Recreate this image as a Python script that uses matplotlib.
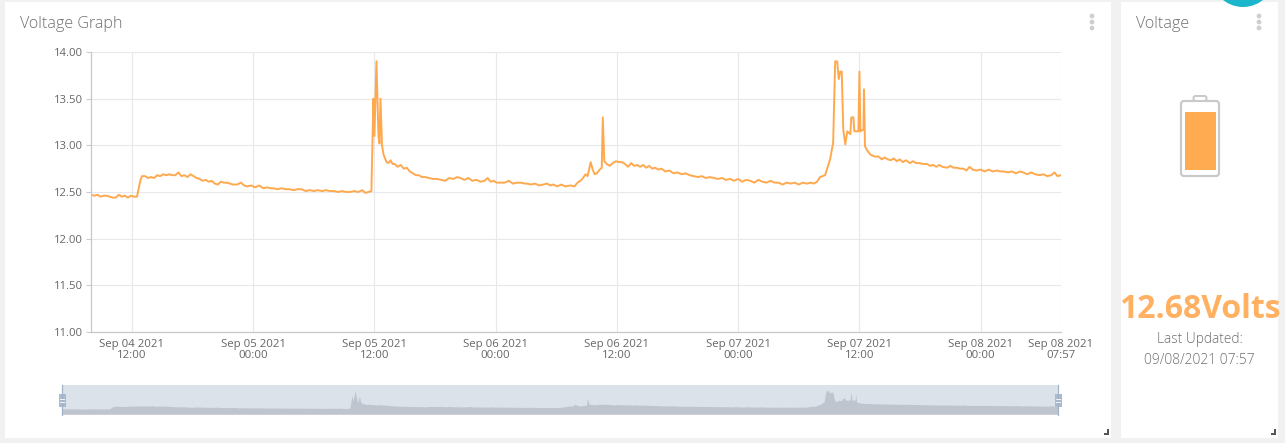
"""Voltage dashboard: line chart with overview strip and battery card."""

import matplotlib
matplotlib.use("Agg")
import matplotlib.pyplot as plt
import pandas as pd
from matplotlib.patches import Circle, FancyBboxPatch, Rectangle

W, H = 1285, 443

# hours since Sep 04 00:00, voltage
hours = [
    7.95, 8.3, 8.6, 8.9, 9.2, 9.5, 9.8, 10.1, 10.4, 10.7,
    11.0, 11.3, 11.6, 11.9, 12.2, 12.5, 12.7, 12.85, 13.0, 13.3,
    13.6, 13.9, 14.2, 14.5, 14.8, 15.1, 15.4, 15.7, 16.0, 16.3,
    16.6, 16.9, 17.2, 17.5, 17.8, 18.1, 18.4, 18.7, 19.0, 19.3,
    19.6, 19.9, 20.2, 20.5, 20.8, 21.1, 21.4, 21.7, 22.0, 22.4,
    22.8, 23.1, 23.4, 23.8, 24.2, 24.6, 25.0, 25.4, 25.7, 26.0,
    26.4, 26.8, 27.2, 27.6, 28.0, 28.4, 28.8, 29.2, 29.6, 30.0,
    30.4, 30.8, 31.2, 31.6, 32.0, 32.4, 32.8, 33.2, 33.6, 34.0,
    34.4, 34.8, 35.1, 35.4, 35.7, 35.9, 36.0, 36.2, 36.4, 36.5,
    36.6, 36.75, 36.9, 37.2, 37.4, 37.6, 37.8, 38.0, 38.3, 38.6,
    38.9, 39.2, 39.5, 39.8, 40.1, 40.4, 40.7, 41.0, 41.4, 41.8,
    42.2, 42.6, 43.0, 43.4, 43.8, 44.2, 44.5, 44.9, 45.3, 45.7,
    46.1, 46.5, 46.9, 47.2, 47.5, 47.8, 48.1, 48.5, 48.9, 49.3,
    49.7, 50.1, 50.5, 50.9, 51.1, 51.5, 51.9, 52.3, 52.7, 53.1,
    53.4, 53.7, 54.1, 54.5, 54.9, 55.4, 55.8, 56.1, 56.5, 56.9,
    57.1, 57.4, 57.6, 57.8, 58.0, 58.3, 58.5, 58.6, 58.75, 59.0,
    59.3, 59.6, 59.9, 60.2, 60.5, 60.8, 61.1, 61.4, 61.7, 62.0,
    62.3, 62.6, 62.9, 63.2, 63.5, 63.8, 64.1, 64.4, 64.8, 65.2,
    65.6, 66.0, 66.4, 66.8, 67.2, 67.6, 68.0, 68.4, 68.8, 69.2,
    69.6, 70.0, 70.4, 70.8, 71.2, 71.6, 72.0, 72.4, 72.8, 73.2,
    73.6, 74.0, 74.4, 74.8, 75.2, 75.6, 76.0, 76.4, 76.8, 77.2,
    77.6, 78.0, 78.4, 78.8, 79.2, 79.5, 79.8, 80.1, 80.6, 81.1,
    81.4, 81.6, 81.8, 81.95, 82.1, 82.25, 82.4, 82.6, 82.8, 83.1,
    83.2, 83.4, 83.5, 83.9, 84.0, 84.1, 84.4, 84.45, 84.55, 84.8,
    85.1, 85.5, 85.9, 86.2, 86.5, 86.8, 87.1, 87.4, 87.7, 88.0,
    88.3, 88.6, 89.0, 89.3, 89.6, 89.9, 90.3, 90.7, 91.0, 91.3,
    91.6, 91.9, 92.2, 92.7, 93.0, 93.3, 93.6, 94.0, 94.3, 94.6,
    94.9, 95.2, 95.6, 96.0, 96.4, 96.8, 97.2, 97.6, 98.0, 98.3,
    98.7, 99.1, 99.5, 99.9, 100.2, 100.6, 101.0, 101.4, 101.8, 102.2,
    102.6, 103.0, 103.3, 103.6, 103.95,
]
volts = [
    12.47, 12.46, 12.47, 12.45, 12.46, 12.46, 12.45, 12.44, 12.44, 12.47,
    12.45, 12.46, 12.44, 12.46, 12.45, 12.45, 12.55, 12.63, 12.67, 12.67,
    12.65, 12.66, 12.65, 12.68, 12.67, 12.69, 12.68, 12.69, 12.68, 12.68,
    12.71, 12.67, 12.68, 12.66, 12.69, 12.67, 12.65, 12.64, 12.62, 12.63,
    12.61, 12.62, 12.59, 12.58, 12.61, 12.60, 12.60, 12.59, 12.58, 12.58,
    12.60, 12.57, 12.56, 12.57, 12.55, 12.57, 12.54, 12.55, 12.54, 12.54,
    12.53, 12.54, 12.53, 12.53, 12.52, 12.53, 12.53, 12.51, 12.52, 12.51,
    12.52, 12.51, 12.52, 12.51, 12.51, 12.50, 12.51, 12.50, 12.50, 12.51,
    12.50, 12.52, 12.49, 12.50, 12.51, 13.50, 13.10, 13.90, 13.10, 13.02,
    13.50, 13.00, 12.90, 12.82, 12.81, 12.84, 12.80, 12.80, 12.77, 12.79,
    12.75, 12.76, 12.72, 12.70, 12.68, 12.68, 12.66, 12.66, 12.65, 12.64,
    12.64, 12.63, 12.62, 12.65, 12.64, 12.66, 12.65, 12.63, 12.65, 12.62,
    12.63, 12.61, 12.62, 12.65, 12.61, 12.62, 12.60, 12.60, 12.60, 12.62,
    12.59, 12.60, 12.60, 12.59, 12.59, 12.58, 12.59, 12.57, 12.58, 12.59,
    12.57, 12.58, 12.56, 12.58, 12.56, 12.57, 12.56, 12.60, 12.63, 12.69,
    12.67, 12.82, 12.74, 12.69, 12.70, 12.74, 12.76, 13.30, 12.83, 12.80,
    12.78, 12.81, 12.83, 12.82, 12.82, 12.80, 12.77, 12.81, 12.78, 12.79,
    12.77, 12.79, 12.76, 12.78, 12.75, 12.76, 12.74, 12.75, 12.72, 12.73,
    12.70, 12.71, 12.69, 12.70, 12.68, 12.67, 12.66, 12.67, 12.65, 12.66,
    12.65, 12.64, 12.65, 12.63, 12.64, 12.62, 12.64, 12.61, 12.63, 12.62,
    12.60, 12.63, 12.61, 12.60, 12.62, 12.60, 12.60, 12.58, 12.60, 12.59,
    12.60, 12.58, 12.60, 12.59, 12.60, 12.59, 12.61, 12.66, 12.68, 12.85,
    13.03, 13.90, 13.90, 13.71, 13.79, 13.79, 13.17, 13.01, 13.15, 13.12,
    13.30, 13.30, 13.15, 13.15, 13.79, 13.15, 13.17, 13.60, 12.99, 12.94,
    12.90, 12.88, 12.88, 12.85, 12.87, 12.85, 12.84, 12.86, 12.83, 12.85,
    12.82, 12.84, 12.81, 12.83, 12.81, 12.81, 12.80, 12.80, 12.78, 12.79,
    12.77, 12.79, 12.77, 12.76, 12.78, 12.76, 12.76, 12.75, 12.75, 12.73,
    12.77, 12.74, 12.73, 12.74, 12.72, 12.74, 12.72, 12.73, 12.72, 12.72,
    12.71, 12.72, 12.70, 12.72, 12.71, 12.69, 12.71, 12.69, 12.68, 12.69,
    12.67, 12.68, 12.71, 12.67, 12.68,
]

y_ticks = [11.0, 11.5, 12.0, 12.5, 13.0, 13.5, 14.0]
x_tick_times = [
    "2021-09-04 12:00", "2021-09-05 00:00", "2021-09-05 12:00", "2021-09-06 00:00",
    "2021-09-06 12:00", "2021-09-07 00:00", "2021-09-07 12:00", "2021-09-08 00:00",
    "2021-09-08 07:57",
]
x_tick_labels = [
    "Sep 04 2021\n12:00", "Sep 05 2021\n00:00", "Sep 05 2021\n12:00", "Sep 06 2021\n00:00",
    "Sep 06 2021\n12:00", "Sep 07 2021\n00:00", "Sep 07 2021\n12:00", "Sep 08 2021\n00:00",
    "Sep 08 2021\n07:57",
]
t_start = "2021-09-04 07:57"
t_end = "2021-09-08 07:57"

ORANGE = "#ffa94f"
GREY_TEXT = "#6f6f6f"

plt.rcParams["font.family"] = ["Open Sans", "DejaVu Sans"]


def axes_px(fig, left, top, right, bottom, **kw):
    """Axes placed by picture pixels (y measured from the top)."""
    return fig.add_axes([left / W, 1 - bottom / H, (right - left) / W, (bottom - top) / H], **kw)


times = pd.Timestamp("2021-09-04") + pd.to_timedelta(hours, unit="h")
ticks = pd.to_datetime(x_tick_times)
xlim = (pd.Timestamp(t_start), pd.Timestamp(t_end))

fig = plt.figure(figsize=(W / 100, H / 100), dpi=100, facecolor="#f1f1f1")

# page furniture in pixel coordinates
bg = axes_px(fig, 0, 0, W, H, zorder=0)
bg.set_xlim(0, W)
bg.set_ylim(H, 0)
bg.axis("off")
bg.add_patch(Rectangle((5, 2), 1106, 435.5, fc="white", ec="none"))
bg.add_patch(Rectangle((1121, 2), 157, 435.5, fc="white", ec="none"))
bg.add_patch(Circle((1243, -25), 32, fc="#1bb6cb", ec="none"))

bg.text(20, 24, "Voltage Graph", fontsize=11.6, color=GREY_TEXT, fontweight="light", va="center")
bg.text(1136, 24, "Voltage", fontsize=11.6, color=GREY_TEXT, fontweight="light", va="center")
for cx in (1092, 1259):
    for cy in (16, 22, 28):
        bg.add_patch(Circle((cx, cy), 2.4, fc="#cfcfcf", ec="none"))

# battery icon
bg.add_patch(FancyBboxPatch((1181, 101), 38, 75, boxstyle="round,pad=0,rounding_size=3",
                            fc="white", ec="#c9c9c9", lw=1.6))
bg.add_patch(FancyBboxPatch((1193.5, 96), 13, 5, boxstyle="round,pad=0,rounding_size=2",
                            fc="white", ec="#c9c9c9", lw=1.4))
bg.add_patch(Rectangle((1185, 112), 31, 58, fc="#ffab52", ec="none"))

bg.text(1199.5, 309, "12.68Volts", fontsize=23, color="#ffb061", fontweight="bold",
        ha="center", va="center")
bg.text(1199.5, 339.5, "Last Updated:", fontsize=9.9, color=GREY_TEXT, fontweight="light",
        ha="center", va="center")
bg.text(1199.5, 360.5, "09/08/2021 07:57", fontsize=9.9, color=GREY_TEXT, fontweight="light",
        ha="center", va="center")

# resize handles
for hx in (1104, 1271):
    bg.add_patch(Rectangle((hx + 3, 429), 2, 6, fc="#555555", ec="none"))
    bg.add_patch(Rectangle((hx, 433), 5, 2, fc="#555555", ec="none"))

# main chart
ax = axes_px(fig, 91, 52, 1061, 332, zorder=2)
ax.patch.set_alpha(0)
ax.plot(times, volts, color=ORANGE, lw=1.4, solid_joinstyle="round")
ax.set_xlim(*xlim)
ax.set_ylim(11, 14)
ax.set_yticks(y_ticks)
ax.set_yticklabels([f"{v:.2f}" for v in y_ticks])
ax.set_xticks(ticks)
ax.set_xticklabels(x_tick_labels, linespacing=0.95)
ax.grid(True, color="#e8e8ec", lw=0.8)
ax.set_axisbelow(True)
ax.tick_params(axis="y", length=3.6, width=0.8, color="#cccccc", labelsize=8.1,
               labelcolor="#666666", pad=2)
ax.tick_params(axis="x", length=0, labelsize=8.2, labelcolor="#666666", pad=5)
for side in ("top", "right"):
    ax.spines[side].set_visible(False)
for side in ("left", "bottom"):
    ax.spines[side].set_color("#c8c8c8")
    ax.spines[side].set_linewidth(0.9)

# overview strip
ov = axes_px(fig, 62, 385, 1058, 414.3, zorder=2)
ov.set_facecolor("#dce2ea")
ov.fill_between(times, 12.03, volts, color="#bfc5cf", lw=0)
ov.set_xlim(*xlim)
ov.set_ylim(12.03, 14.35)
ov.set_xticks([])
ov.set_yticks([])
for s in ov.spines.values():
    s.set_visible(False)

# overview handles on top
top = axes_px(fig, 0, 0, W, H, zorder=3)
top.set_xlim(0, W)
top.set_ylim(H, 0)
top.axis("off")
for hx in (62, 1058):
    top.plot([hx, hx], [385, 415], color="#a3b3c7", lw=0.9)
    top.add_patch(Rectangle((hx - 3.5, 394), 7, 13, fc="#a9bbd0", ec="none"))
    top.plot([hx - 2, hx + 2], [399, 399], color="white", lw=0.6)
    top.plot([hx - 2, hx + 2], [402, 402], color="white", lw=0.6)

fig.savefig("out.png", dpi=100, facecolor=fig.get_facecolor())
plt.close(fig)
